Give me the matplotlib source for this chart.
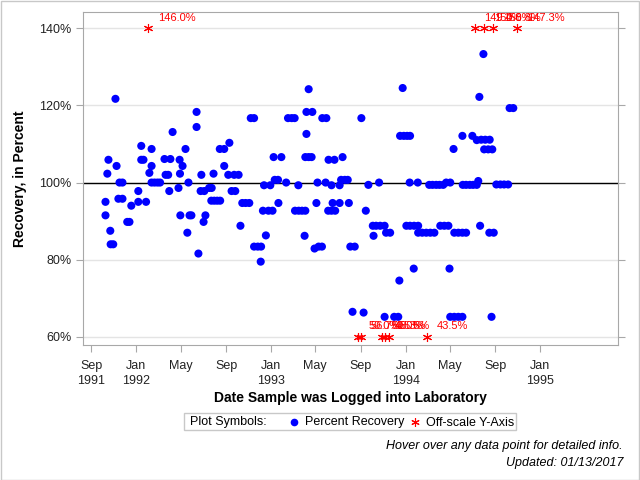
import numpy as np
import pandas as pd
import matplotlib
matplotlib.use('Agg')
import matplotlib.pyplot as plt
from matplotlib.patches import Rectangle
from matplotlib.lines import Line2D

plt.rcParams['font.family'] = ['Liberation Sans', 'DejaVu Sans']

START = pd.Timestamp('1991-09-01')

# days after START that each sample was logged, and its percent recovery
recovery_days = [66, 47, 44, 39, 39, 52, 53, 60, 69, 77, 85, 74, 85, 98, 104, 109, 128, 128, 136, 136,
                 142, 149, 158, 164, 164, 164, 172, 180, 187, 199, 215, 202, 209, 212, 221, 237, 240, 241, 248, 242,
                 256, 264, 261, 267, 272, 286, 286, 291, 299, 297, 307, 310, 305, 320, 327, 332, 326, 334, 342, 350,
                 349, 361, 375, 361, 372, 388, 400, 381, 391, 405, 410, 419, 429, 433, 442, 442, 452, 461, 460, 474,
                 466, 481, 492, 469, 486, 495, 498, 507, 508, 516, 529, 534, 544, 552, 562, 553, 563, 572, 581, 579,
                 590, 584, 600, 584, 581, 590, 598, 606, 617, 626, 614, 611, 627, 638, 636, 644, 660, 652, 655, 643,
                 652, 662, 674, 674, 682, 678, 688, 696, 699, 703, 715, 709, 733, 739, 752, 745, 781, 764, 773, 784,
                 796, 766, 800, 811, 796, 822, 833, 836, 845, 838, 848, 857, 865, 864, 886, 855, 865, 876, 887, 887,
                 898, 909, 920, 931, 875, 917, 926, 936, 945, 955, 947, 958, 969, 963, 974, 972, 983, 974, 985, 996,
                 1007, 985, 996, 1007, 1017, 1007, 1008, 1017, 1027, 1036, 1046, 1034, 1046, 1053, 1055, 1050, 1064, 1135, 1145, 1058,
                 1069, 1081, 1066, 1077, 1088, 1099, 1110, 1120, 1131, 1080, 1092, 1086]
recovery_pct = [121.7, 105.9, 102.3, 95.0, 91.5, 87.5, 84.0, 84.0, 104.3, 100.0, 100.0, 95.8, 95.8, 89.8, 89.8, 94.0, 97.8, 95.0, 109.5, 105.9,
                105.9, 95.0, 102.5, 108.7, 104.3, 100.0, 100.0, 100.0, 100.0, 106.1, 106.1, 102.0, 102.0, 97.8, 113.1, 98.6, 105.9, 102.3, 104.3, 91.5,
                108.7, 100.0, 87.0, 91.5, 91.5, 118.3, 114.4, 81.6, 102.0, 97.8, 97.8, 91.5, 89.8, 98.6, 98.6, 102.3, 95.3, 95.3, 95.3, 95.3,
                108.7, 108.7, 110.3, 104.3, 102.0, 102.0, 102.0, 97.8, 97.8, 88.8, 94.7, 94.7, 94.7, 116.7, 116.7, 83.4, 83.4, 83.4, 79.5, 86.3,
                92.7, 92.7, 92.7, 99.3, 99.3, 106.6, 100.7, 100.7, 94.7, 106.6, 100.0, 116.7, 116.7, 116.7, 99.3, 92.7, 92.7, 92.7, 92.7, 86.2,
                124.2, 118.3, 118.3, 112.6, 106.6, 106.6, 106.6, 82.9, 83.4, 83.4, 100.0, 94.7, 116.7, 116.7, 100.0, 105.9, 105.9, 99.3, 94.7, 92.7,
                92.7, 92.7, 99.3, 94.7, 106.6, 100.7, 100.7, 100.7, 94.7, 83.4, 83.4, 66.5, 116.7, 66.3, 99.4, 92.7, 100.0, 88.8, 88.8, 88.8,
                88.8, 86.2, 87.0, 87.0, 65.2, 65.2, 65.2, 74.6, 124.5, 112.1, 112.1, 112.1, 112.1, 100.0, 100.0, 88.8, 88.8, 88.8, 88.8, 87.0,
                87.0, 87.0, 87.0, 87.0, 77.7, 99.4, 99.4, 99.4, 99.4, 99.4, 88.8, 88.8, 88.8, 100.0, 100.0, 77.7, 108.7, 65.2, 65.2, 65.2,
                65.2, 87.0, 87.0, 87.0, 87.0, 112.1, 99.4, 99.4, 99.4, 99.4, 99.4, 112.1, 111.0, 122.2, 88.8, 100.4, 133.3, 119.3, 119.3, 111.1,
                111.1, 111.1, 108.6, 108.6, 108.6, 99.5, 99.5, 99.5, 99.5, 87.0, 87.0, 65.2]

# samples whose recovery falls outside the plotted Y range
offscale_days = [155, 1040, 1066, 1091, 1155, 725, 732, 789, 798, 807, 912]
offscale_pct = [146.0, 149.4, 150.0, 158.8, 147.3, 50.0, 56.7, 50.0, 48.3, 55.5, 43.5]

y_ticks = [60, 80, 100, 120, 140]
x_ticks = ['1991-09-01', '1992-01-01', '1992-05-01', '1992-09-01', '1993-01-01', '1993-05-01',
           '1993-09-01', '1994-01-01', '1994-05-01', '1994-09-01', '1995-01-01']

Y_LOW, Y_HIGH = 60, 140

W, H = 640, 480
fig = plt.figure(figsize=(W / 100, H / 100), dpi=100)
ax = fig.add_axes([83 / W, 1 - 345 / H, (618 - 83) / W, (345 - 12) / H])

rec_dates = START + pd.to_timedelta(recovery_days, unit='D')
off_dates = START + pd.to_timedelta(offscale_days, unit='D')
off_y = np.clip(offscale_pct, Y_LOW, Y_HIGH)

for yt in y_ticks:
    ax.axhline(yt, color='#e4e4e4', lw=1, zorder=0)
ax.axhline(100, color='black', lw=1, zorder=1)

ax.scatter(rec_dates, recovery_pct, s=34, color='#0000ff', edgecolors='none', zorder=3)
ax.plot(off_dates, off_y, linestyle='none', marker=(6, 2, 0), markersize=6.5,
        markeredgecolor='#ff0000', markeredgewidth=0.8, color='#ff0000', zorder=3)
for d, yv, v in zip(off_dates, off_y, offscale_pct):
    ax.annotate(f'{v:.1f}%', (d, yv), xytext=(7, 4), textcoords='offset points',
                color='#ff0000', fontsize=8, ha='left', va='bottom', zorder=4)

ax.set_xlim(pd.Timestamp('1991-08-10'), pd.Timestamp('1995-07-31'))
ax.set_ylim(57.9, 144.2)

ax.set_yticks(y_ticks)
ax.set_yticklabels([f'{v}%' for v in y_ticks])
xt = pd.to_datetime(x_ticks)
ax.set_xticks(xt)
labels = []
for i, t in enumerate(xt):
    lab = t.strftime('%b')
    if i == 0 or t.month == 1:
        lab += '\n' + str(t.year)
    labels.append(lab)
ax.set_xticklabels(labels, linespacing=1.35)

for s in ax.spines.values():
    s.set_color('#a8a8a8')
ax.tick_params(axis='both', colors='#a8a8a8', labelcolor='#222222', labelsize=9, length=5)
ax.tick_params(axis='y', right=True, labelright=False)
ax.tick_params(axis='x', pad=6)

fig.text(20 / W, 1 - 178.5 / H, 'Recovery, in Percent', fontsize=10, fontweight='bold',
         rotation=90, ha='center', va='center')
fig.text(350 / W, 1 - 398 / H, 'Date Sample was Logged into Laboratory', fontsize=10,
         fontweight='bold', ha='center', va='center')

# legend box
fig.add_artist(Rectangle((184 / W, 1 - 430 / H), (516 - 184) / W, 17 / H, transform=fig.transFigure,
                         fill=False, edgecolor='#c8c8c8', lw=1))
ly = 1 - 421.5 / H
ty = 1 - 422.5 / H
fig.text(190 / W, ty, 'Plot Symbols:', fontsize=9, va='center', ha='left')
fig.add_artist(Line2D([294 / W], [ly], transform=fig.transFigure, marker='o', markersize=5.5,
                      color='#0000ff', markeredgecolor='none', linestyle='none'))
fig.text(305 / W, ty, 'Percent Recovery', fontsize=9, va='center', ha='left')
fig.add_artist(Line2D([415 / W], [ly], transform=fig.transFigure, marker=(6, 2, 0), markersize=6,
                      markeredgecolor='#ff0000', markeredgewidth=0.8, linestyle='none'))
fig.text(426 / W, ty, 'Off-scale Y-Axis', fontsize=9, va='center', ha='left')

fig.text(623 / W, 1 - 446 / H, 'Hover over any data point for detailed info.', fontsize=9,
         style='italic', ha='right', va='center')
fig.text(623 / W, 1 - 463 / H, 'Updated: 01/13/2017', fontsize=9, style='italic', ha='right', va='center')

fig.add_artist(Rectangle((0.5 / W, 0.5 / H), 1 - 1.5 / W, 1 - 1.5 / H, transform=fig.transFigure,
                         fill=False, edgecolor='#c8c8c8', lw=1))

fig.savefig('out.png', dpi=100)
